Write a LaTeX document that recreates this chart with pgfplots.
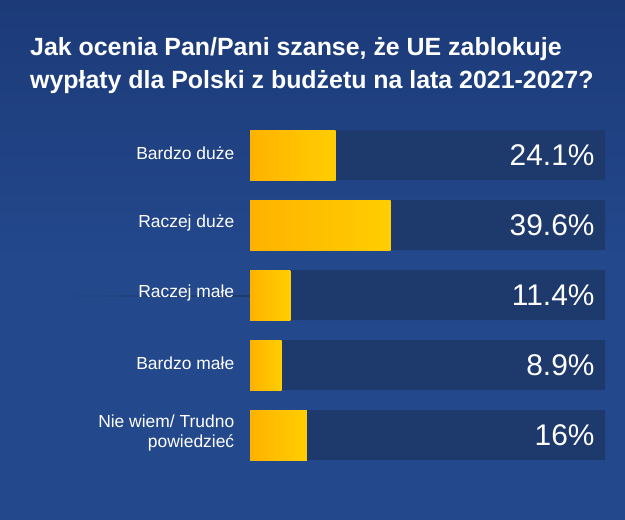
\documentclass[border=0pt]{standalone}
\usepackage{fontspec}
\setmainfont{Liberation Sans}
\usepackage{pgfplots}
\usepackage{pgfplotstable}
\pgfplotsset{compat=1.18}
\definecolor{bgblue}{RGB}{35,72,140}
\definecolor{bgdark}{RGB}{28,58,120}
\definecolor{track}{RGB}{30,57,108}
\definecolor{barL}{RGB}{255,178,0}
\definecolor{barR}{RGB}{255,206,0}

\pgfplotstableread{
idx full value
0 100 24.1
1 100 39.6
2 100 11.4
3 100 8.9
4 100 16
}\data

\begin{document}
\begin{tikzpicture}
% background
\shade[top color=bgdark, bottom color=bgblue, middle color=bgblue] (0,0) rectangle (625bp,520bp);
\shade[left color=bgblue, right color=track] (50bp,223.7bp) rectangle (250bp,224.4bp);
\node[anchor=north west, text=white, align=left, font=\fontsize{25}{33}\selectfont\bfseries, inner sep=0pt]
  at (30bp,520bp-37bp) {Jak ocenia Pan/Pani szanse, że UE zablokuje\\wypłaty dla Polski z budżetu na lata 2021-2027?};
\begin{axis}[
  at={(250bp,50bp)}, anchor=south west,
  scale only axis, width=355bp, height=350bp,
  xmin=0, xmax=100, ymin=-0.5, ymax=4.5,
  y dir=reverse,
  axis line style={draw=none},
  major tick style={draw=none},
  xtick=\empty,
  ytick={0,1,2,3,4},
  yticklabels={Bardzo duże, Raczej duże, Raczej małe, Bardzo małe, {Nie wiem/ Trudno\\powiedzieć}},
  yticklabel style={text=white, align=right, font=\fontsize{17.5}{20}\selectfont, xshift=-8bp, yshift=2bp},
  xbar, bar width=50bp, bar shift=0pt,
  clip=false,
]
\addplot[fill=track, draw=none,
  point meta=explicit,
  nodes near coords={\pgfmathprintnumber[assume math mode=true]{\pgfplotspointmeta}\%},
  every node near coord/.append style={text=white, font=\fontsize{30}{32}\selectfont, anchor=east, xshift=-7bp},
] table[x=full, y=idx, meta=value] {\data};
% one plot per bar so that each bar gets its own gradient
\pgfplotsinvokeforeach{0,...,4}{
  \addplot[left color=barL, right color=barR, draw=none,
    restrict y to domain=#1:#1] table[x=value, y=idx] {\data};
}
\end{axis}
\pgfresetboundingbox
\path (0,0) rectangle (625bp,520bp);
\end{tikzpicture}
\end{document}
